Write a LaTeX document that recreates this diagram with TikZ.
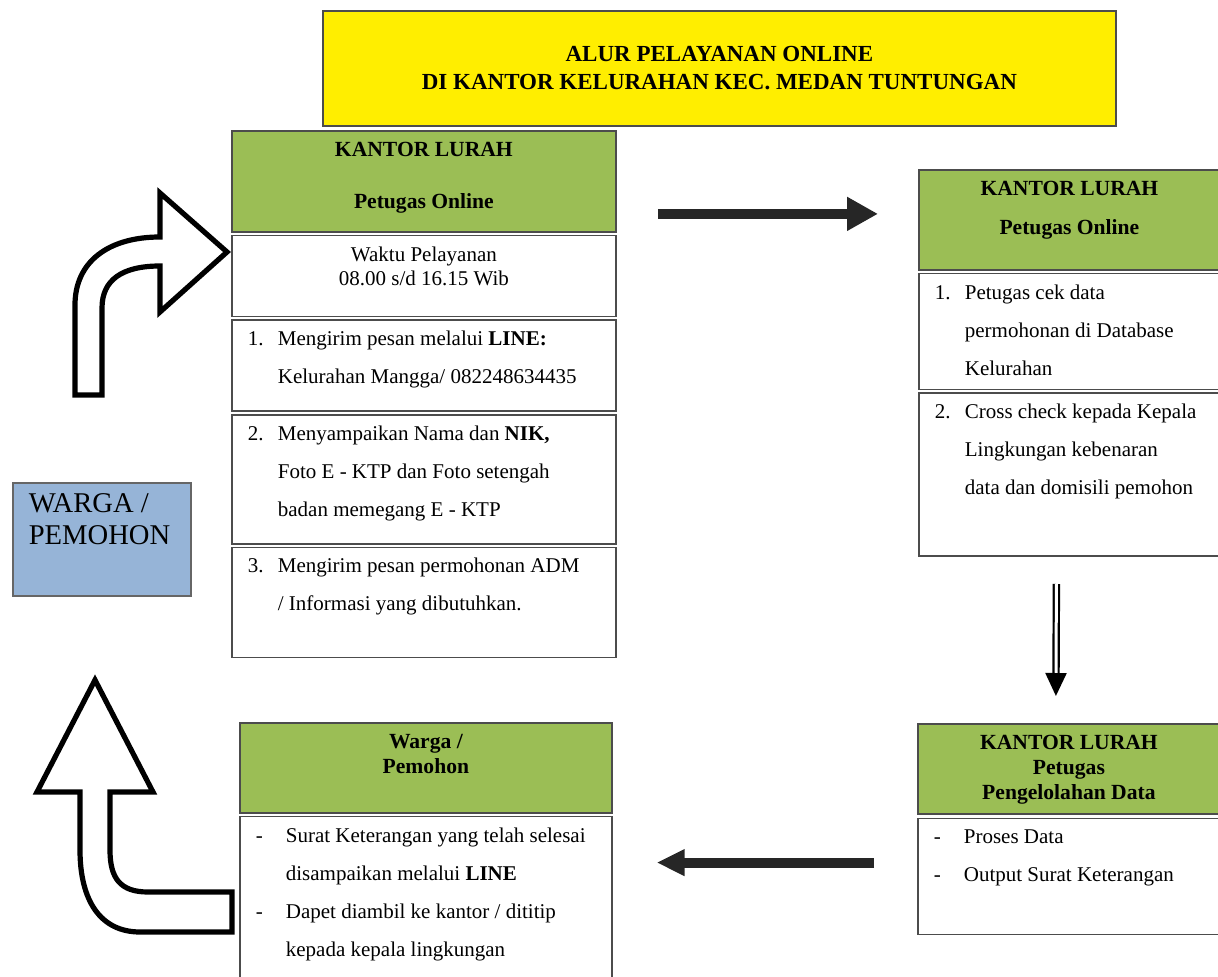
\documentclass[tikz,border=0pt]{standalone}
\usepackage{fontspec}
\setmainfont{Liberation Serif}
\usepackage{xcolor}
\usepackage{tikz}
\usetikzlibrary{arrows.meta,positioning,calc}
\definecolor{headgreen}{RGB}{155,190,85}
\definecolor{titleyellow}{RGB}{255,238,0}
\definecolor{wargablue}{RGB}{150,180,215}
\newcommand{\rowtxt}[3]{\begin{minipage}[c][#1][t]{#2}\vspace*{5.5pt}\raggedright\leftskip=8pt\relax #3\end{minipage}}
\newcommand{\numbox}[1]{\makebox[15pt][l]{#1}}
\newcommand{\subln}{\hspace*{15pt}}
\tikzset{
  titlebox/.style={draw=black!70,line width=0.9pt,fill=titleyellow,align=center,minimum width=396.5pt,minimum height=57.5pt,font=\fontsize{11.5}{14}\selectfont\bfseries},
  head/.style={draw=black!70,line width=0.9pt,fill=headgreen,inner sep=0pt},
  cell/.style={draw=black!70,line width=0.8pt,fill=white,inner sep=0pt,font=\fontsize{10.5}{19}\selectfont},
  wargabox/.style={draw=black!60,line width=0.8pt,fill=wargablue,inner sep=0pt,font=\fontsize{14.3}{16}\selectfont},
  fat/.style={line width=5pt,draw=black!85,-{Triangle[length=15.5pt,width=16pt]}},
  dbl/.style={line width=1.1pt,draw=black,double=white,double distance=1.5pt,-{Triangle[length=11.5pt,width=10.5pt]}},
  bigturn/.style={draw=black,line width=2.6pt,fill=white}
}
\begin{document}
\begin{tikzpicture}[x=0.5pt,y=-0.5pt]
  \useasboundingbox (0,0) rectangle (1218,977);
  \node[titlebox,anchor=north west] (title) at (322,10) {ALUR PELAYANAN ONLINE\\DI KANTOR KELURAHAN KEC. MEDAN TUNTUNGAN};

  % kantor lurah, petugas online (kiri)
  \node[head,anchor=north west,font=\fontsize{10.8}{26}\selectfont\bfseries] (aHead) at (231,130) {\rowtxt{50.5pt}{192pt}{\centering KANTOR LURAH\\Petugas Online}};
  \node[cell,below=1pt of aHead,font=\fontsize{10.5}{12}\selectfont] (aR1) {\rowtxt{40.5pt}{192pt}{\centering Waktu Pelayanan\\08.00 s/d 16.15 Wib}};
  \node[cell,below=1pt of aR1] (aR2) {\rowtxt{45.5pt}{192pt}{\numbox{1.}Mengirim pesan melalui \textbf{LINE:}\\\subln Kelurahan Mangga/ 082248634435}};
  \node[cell,below=1pt of aR2] (aR3) {\rowtxt{64.5pt}{192pt}{\numbox{2.}Menyampaikan Nama dan \textbf{NIK,}\\\subln Foto E - KTP dan Foto setengah\\\subln badan memegang E - KTP}};
  \node[cell,below=1pt of aR3] (aR4) {\rowtxt{55pt}{192pt}{\numbox{3.}Mengirim pesan permohonan ADM\\\subln / Informasi yang dibutuhkan.}};

  % kantor lurah, petugas online (kanan)
  \node[head,anchor=north west,font=\fontsize{10.8}{19.5}\selectfont\bfseries] (bHead) at (918,169) {\rowtxt{50pt}{150.5pt}{\centering KANTOR LURAH\\Petugas Online}};
  \node[cell,below=1pt of bHead] (bR1) {\rowtxt{58pt}{150.5pt}{\numbox{1.}Petugas cek data\\\subln permohonan di Database\\\subln Kelurahan}};
  \node[cell,below=1pt of bR1] (bR2) {\rowtxt{81.5pt}{150.5pt}{\numbox{2.}Cross check kepada Kepala\\\subln Lingkungan kebenaran\\\subln data dan domisili pemohon}};

  % pengelolahan data
  \node[head,anchor=north west,font=\fontsize{10.8}{12.5}\selectfont\bfseries] (dHead) at (917,723) {\rowtxt{45pt}{151pt}{\centering KANTOR LURAH\\Petugas\\Pengelolahan Data}};
  \node[cell,below=1.5pt of dHead] (dRow) {\rowtxt{58pt}{151pt}{\numbox{-}Proses Data\\\numbox{-}Output Surat Keterangan}};

  % warga / pemohon
  \node[head,anchor=north west,font=\fontsize{10.8}{12.5}\selectfont\bfseries] (cHead) at (239,722) {\rowtxt{45pt}{186pt}{\centering Warga /\\Pemohon}};
  \node[cell,below=1pt of cHead] (cRow) {\rowtxt{82.5pt}{186pt}{\numbox{-}Surat Keterangan yang telah selesai\\\subln disampaikan melalui \textbf{LINE}\\\numbox{-}Dapet diambil ke kantor / dititip\\\subln kepada kepala lingkungan}};

  \node[wargabox,anchor=north west] (warga) at (12,482) {\rowtxt{56.5pt}{89pt}{WARGA /\\PEMOHON}};

  \draw[fat] ($(aHead.east|-bHead.west)+(20.5pt,3pt)$) -- ($(bHead.west)+(-20pt,3pt)$);
  \draw[dbl] ($(bR2.south)+(-6.5pt,-13.5pt)$) -- ($(dHead.north)+(-6.5pt,13.5pt)$);
  \draw[fat,-{Triangle[length=14pt,width=12.5pt]}] ($(dRow.west)+(-21.5pt,7pt)$) -- ($(cRow.east|-dRow.west)+(22pt,7pt)$);

  % panah belok
  \draw[bigturn] (75,395) -- (75,305) .. controls (75,262) and (108,237) .. (160,237) -- (160,193) -- (227,252) -- (160,312) -- (160,266) .. controls (122,266) and (102,280) .. (102,308) -- (102,395) -- cycle;
  \draw[bigturn] (95,680) -- (153,792) -- (110,792) -- (110,850) .. controls (110,878) and (120,892) .. (148,892) -- (232,892) -- (232,932) -- (140,932) .. controls (100,932) and (80,900) .. (80,850) -- (80,792) -- (37,792) -- cycle;
\end{tikzpicture}
\end{document}
